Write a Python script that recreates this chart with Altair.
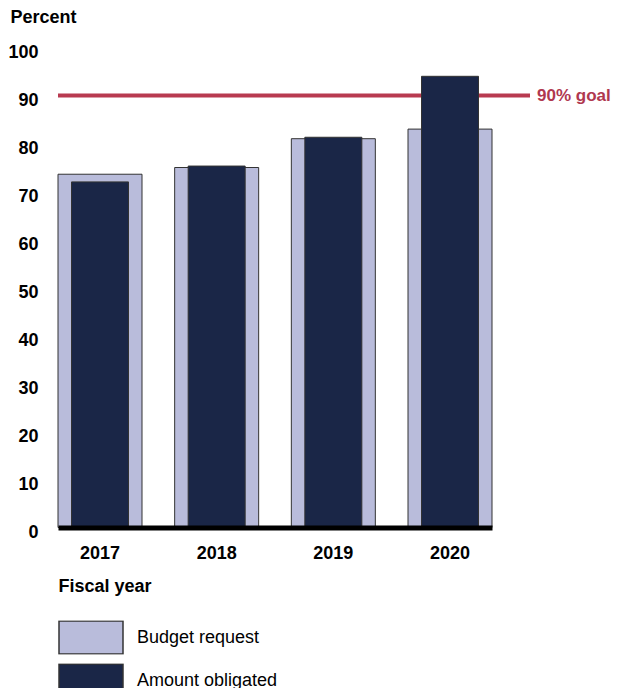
import altair as alt
import pandas as pd

# ---- data ----
years = ["2017", "2018", "2019", "2020"]
budget_request = [73.6, 75, 81, 83]
amount_obligated = [72, 75.3, 81.3, 94]
series = ["Budget request", "Amount obligated"]
y_ticks = [0, 10, 20, 30, 40, 50, 60, 70, 80, 90, 100]
goal_value = [90]
goal_label = ["90% goal"]

df = pd.DataFrame({
    "year": years * 2,
    "value": budget_request + amount_obligated,
    "series": [series[0]] * len(years) + [series[1]] * len(years),
})
goal_df = pd.DataFrame({"goal": goal_value, "label": goal_label})

FONT = "Liberation Sans"
LIGHT = "#b9bcdb"
DARK = "#1a2647"
RED = "#b83a50"

x_enc = alt.X(
    "year:N", sort=years,
    scale=alt.Scale(paddingInner=0.28, paddingOuter=0),
    axis=alt.Axis(
        title="Fiscal year", labelAngle=0, ticks=False, tickSize=0,
        labelFont=FONT, labelFontSize=18, labelFontWeight="bold", labelColor="#000",
        labelPadding=17, domain=True, domainColor="#000", domainWidth=5, zindex=1,
        titleFont=FONT, titleFontSize=18, titleFontWeight="bold", titleColor="#000",
        titleAnchor="start", titleAlign="left", titleBaseline="alphabetic",
        titleX=0, titleY=63.5, grid=False,
    ),
)
y_enc = alt.Y(
    "value:Q",
    scale=alt.Scale(domain=[0, 100], nice=False),
    axis=alt.Axis(
        values=y_ticks, title="Percent", ticks=False, tickSize=0, domain=False, grid=False,
        labelFont=FONT, labelFontSize=18, labelFontWeight="bold", labelColor="#000",
        labelPadding=20, labelBaseline="alphabetic", labelOffset=9.5,
        labelFlush=False, labelOverlap=False,
        titleFont=FONT, titleFontSize=18, titleFontWeight="bold", titleColor="#000",
        titleAngle=0, titleAlign="left", titleBaseline="alphabetic",
        titleX=-48, titleY=-25,
    ),
)
color_enc = alt.Color(
    "series:N",
    scale=alt.Scale(domain=series, range=[LIGHT, DARK]),
    sort=series,
    legend=alt.Legend(
        title=None, orient="none", legendX=0, legendY=573, direction="vertical",
        symbolType="M-1,-0.5156L1,-0.5156L1,0.5156L-1,0.5156Z", symbolSize=4096,
        symbolStrokeColor="#333", symbolStrokeWidth=1.5, symbolOpacity=1,
        labelFont=FONT, labelFontSize=18, labelColor="#000", labelOffset=13,
        clipHeight=34, rowPadding=9, padding=0,
    ),
)

base = alt.Chart(df)
budget = base.transform_filter(alt.datum.series == series[0]).mark_bar(
    size=84, stroke="#333", strokeWidth=1
).encode(x=x_enc, y=y_enc, color=color_enc)

obligated = base.transform_filter(alt.datum.series == series[1]).mark_bar(
    size=57, stroke="#333", strokeWidth=1
).encode(x=x_enc, y=y_enc, color=color_enc)

rule = alt.Chart(goal_df).mark_rule(color=RED, strokeWidth=4).encode(
    y=alt.Y("goal:Q"), x=alt.value(0), x2=alt.value(472)
)
text = alt.Chart(goal_df).mark_text(
    align="left", baseline="middle", font=FONT, fontSize=17, fontWeight="bold", color="#b0384f"
).encode(y=alt.Y("goal:Q"), x=alt.value(479), text="label:N")

chart = alt.layer(budget, rule, obligated, text).properties(
    width=434, height=480,
    autosize=alt.AutoSizeParams(type="none"),
    padding={"left": 50, "top": 39.5, "right": 122, "bottom": 160.5},
).configure_view(stroke=None)

chart.save("out.html", embed_options={"renderer": "svg", "actions": False})
